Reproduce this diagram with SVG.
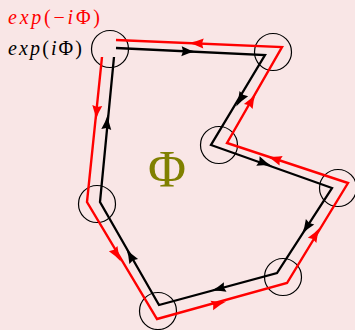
<svg xmlns="http://www.w3.org/2000/svg" xmlns:xlink="http://www.w3.org/1999/xlink" width="355" height="330" viewBox="0 0 355 330">
<style>
.bg{fill:#F9E6E6}
.node{fill:none;stroke:#000;stroke-width:1.2}
.blk{fill:none;stroke:#000;stroke-width:2.3;stroke-linejoin:miter}
.red{fill:none;stroke:#FF0000;stroke-width:2.4;stroke-linejoin:miter}
.ab{fill:#000}
.ar{fill:#FF0000}
.lbl{font-family:"Liberation Serif","DejaVu Serif",serif;font-size:20px}
.it{font-style:italic}
</style>
<defs>
<path id="ah" d="M7.5,0 Q0,-1.4 -7.5,-5 L-6,0 L-7.5,5 Q0,1.4 7.5,0 Z"/>
</defs>
<rect class="bg" x="0" y="0" width="355" height="330"/>
<g id="nodes">
<g id="n1"><circle class="node" cx="110" cy="49" r="18.5"/></g>
<g id="n2"><circle class="node" cx="273" cy="52" r="18.5"/></g>
<g id="n3"><circle class="node" cx="219" cy="145" r="18.5"/></g>
<g id="n4"><circle class="node" cx="338" cy="188" r="18.5"/></g>
<g id="n5"><circle class="node" cx="283" cy="277" r="18.5"/></g>
<g id="n6"><circle class="node" cx="158" cy="311" r="18.5"/></g>
<g id="n7"><circle class="node" cx="97" cy="204" r="18.5"/></g>
</g>
<g id="connectors">
<path class="blk" d="M116,48 L265,55 L211,145 L332,188 L277,273 L159,305 L100,202 L114,57"/>
<path class="red" d="M102,57 L87,202 L157,319 L287,283 L348,183 L227,143 L282,47 L116,40"/>
<g class="ab">
<use xlink:href="#ah" transform="translate(189,51.5) rotate(2.7)"/>
<use xlink:href="#ah" transform="translate(240,100) rotate(121)"/>
<use xlink:href="#ah" transform="translate(265,163.5) rotate(19.6)"/>
<use xlink:href="#ah" transform="translate(306,228) rotate(122.9)"/>
<use xlink:href="#ah" transform="translate(218,289) rotate(164.8)"/>
<use xlink:href="#ah" transform="translate(130,255) rotate(-119.8)"/>
<use xlink:href="#ah" transform="translate(107,122) rotate(-84.5)"/>
</g>
<g class="ar">
<use xlink:href="#ah" transform="translate(96.5,113) rotate(95.9)"/>
<use xlink:href="#ah" transform="translate(117,255) rotate(59.1)"/>
<use xlink:href="#ah" transform="translate(219,303.5) rotate(-15.5)"/>
<use xlink:href="#ah" transform="translate(316,234) rotate(-58.6)"/>
<use xlink:href="#ah" transform="translate(274,158.5) rotate(198.3)"/>
<use xlink:href="#ah" transform="translate(252,100) rotate(-60.2)"/>
<use xlink:href="#ah" transform="translate(196,43.2) rotate(182.4)"/>
</g>
</g>
<g id="labels">
<text class="lbl" x="8" y="24" fill="#FF0000" textLength="92" lengthAdjust="spacing"><tspan class="it">exp</tspan>(−<tspan class="it">i</tspan>Φ)</text>
<text class="lbl" x="8" y="55" fill="#000" textLength="74" lengthAdjust="spacing"><tspan class="it">exp</tspan>(<tspan class="it">i</tspan>Φ)</text>
<text x="167" y="187" text-anchor="middle" font-family="Liberation Serif, DejaVu Serif, serif" font-size="52" fill="#808000">Φ</text>
</g>
</svg>
